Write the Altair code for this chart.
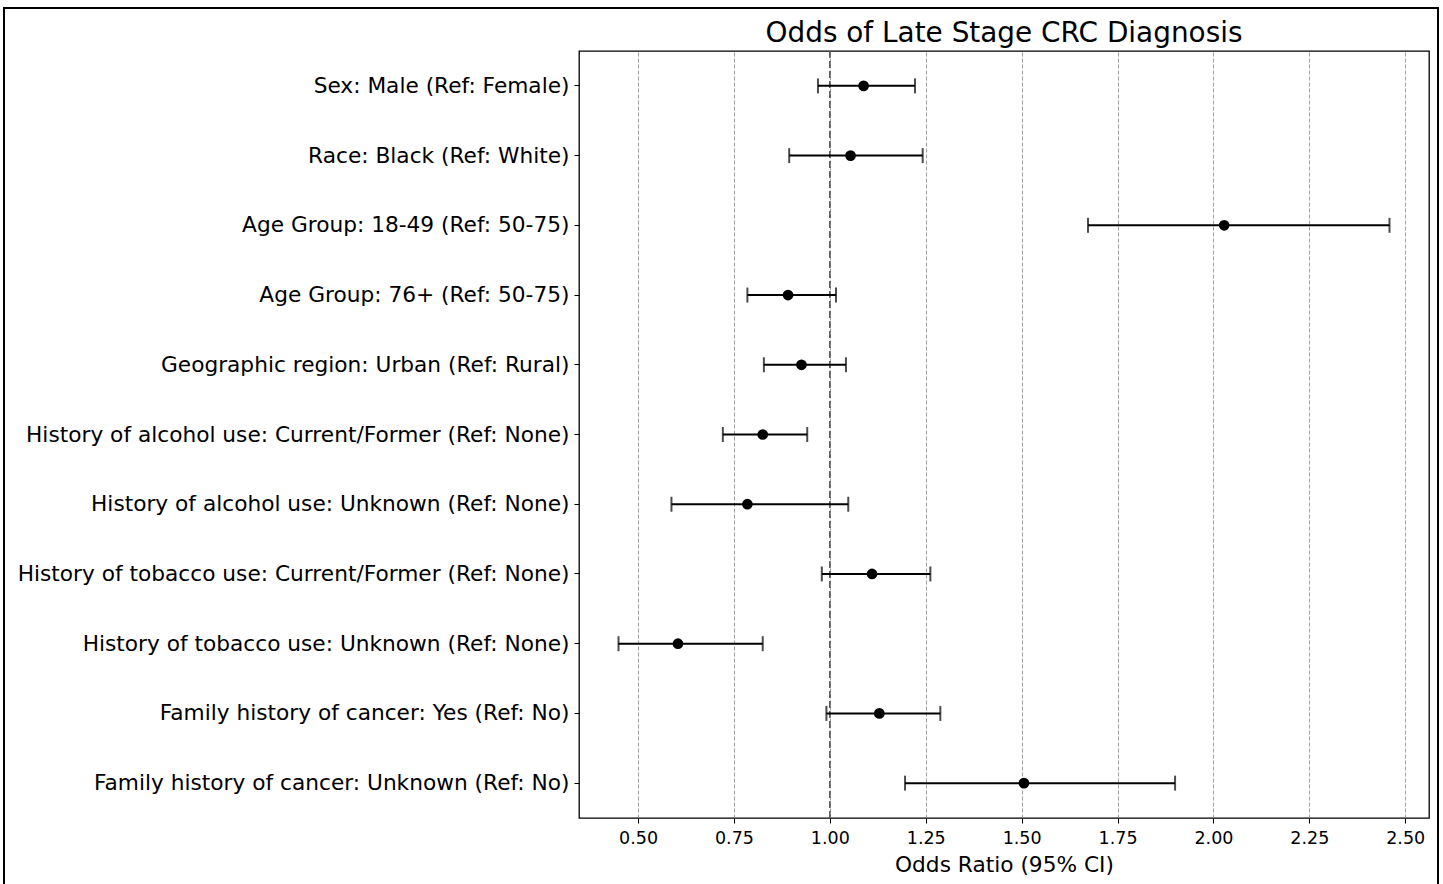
import altair as alt
import pandas as pd

categories = [
    "Sex: Male (Ref: Female)",
    "Race: Black (Ref: White)",
    "Age Group: 18-49 (Ref: 50-75)",
    "Age Group: 76+ (Ref: 50-75)",
    "Geographic region: Urban (Ref: Rural)",
    "History of alcohol use: Current/Former (Ref: None)",
    "History of alcohol use: Unknown (Ref: None)",
    "History of tobacco use: Current/Former (Ref: None)",
    "History of tobacco use: Unknown (Ref: None)",
    "Family history of cancer: Yes (Ref: No)",
    "Family history of cancer: Unknown (Ref: No)",
]
odds_ratio = [1.088, 1.054, 2.028, 0.891, 0.926, 0.825, 0.785, 1.110, 0.604, 1.129, 1.506]
ci_lower = [0.969, 0.894, 1.673, 0.785, 0.828, 0.721, 0.587, 0.979, 0.449, 0.991, 1.196]
ci_upper = [1.222, 1.242, 2.459, 1.016, 1.042, 0.941, 1.048, 1.262, 0.825, 1.288, 1.900]
x_ticks = [0.5, 0.75, 1.0, 1.25, 1.5, 1.75, 2.0, 2.25, 2.5]
ref_line = [1.0]
title_text = ["Odds of Late Stage CRC Diagnosis"]

df = pd.DataFrame({"label": categories, "or": odds_ratio, "lo": ci_lower, "hi": ci_upper})
ref_df = pd.DataFrame({"ref": ref_line})
title_df = pd.DataFrame({"t": title_text})

FONT = "DejaVu Sans"
x_scale = alt.Scale(domain=[0.346, 2.562], nice=False, zero=False)
y_enc = alt.Y("label:N", sort=categories, title=None,
              scale=alt.Scale(paddingInner=0, paddingOuter=0),
              axis=alt.Axis(labelFontSize=21.7, labelColor="black", tickColor="black",
                            tickSize=5, labelPadding=5, domain=False, grid=False,
                            labelLimit=800, labelFont=FONT))
x_axis = alt.Axis(values=x_ticks, format=".2f", labelFontSize=17.5, labelColor="black",
                  tickColor="black", tickSize=5, labelPadding=6, domain=False,
                  grid=True, gridDash=[4, 2], gridColor="#888888", gridWidth=0.8,
                  title="Odds Ratio (95% CI)", titleFontSize=21.7, titleFontWeight="normal",
                  titleColor="black", titlePadding=8, labelFont=FONT, titleFont=FONT)

base = alt.Chart(df)

grid_layer = base.mark_point(opacity=0).encode(
    x=alt.X("or:Q", scale=x_scale, axis=x_axis), y=y_enc)

ref = alt.Chart(ref_df).mark_rule(color="#555555", strokeDash=[7, 3], strokeWidth=1.6).encode(
    x=alt.X("ref:Q", scale=x_scale))

rules = base.mark_rule(color="black", strokeWidth=2).encode(
    x=alt.X("lo:Q", scale=x_scale), x2="hi:Q", y=y_enc)

caps_lo = base.mark_tick(color="black", thickness=2, size=15, orient="vertical").encode(
    x=alt.X("lo:Q", scale=x_scale), y=y_enc)
caps_hi = base.mark_tick(color="black", thickness=2, size=15, orient="vertical").encode(
    x=alt.X("hi:Q", scale=x_scale), y=y_enc)

points = base.mark_circle(color="black", size=115, opacity=1).encode(
    x=alt.X("or:Q", scale=x_scale), y=y_enc)

title = alt.Chart(title_df).mark_text(fontSize=27.9, font=FONT, color="black",
                                      align="center", baseline="alphabetic").encode(
    x=alt.value(425), y=alt.value(-9), text="t:N")

frame = alt.Chart(ref_df).mark_rect(fillOpacity=0, stroke="black", strokeWidth=2).encode(
    x=alt.value(-575), x2=alt.value(859), y=alt.value(-43), y2=alt.value(860))

chart = alt.layer(grid_layer, ref, rules, caps_lo, caps_hi, points, title, frame).properties(
    width=850, height=767,
    background="white",
    autosize=alt.AutoSizeParams(type="none"),
    padding={"left": 579, "top": 51, "right": 14, "bottom": 66},
).configure_view(stroke="black", strokeWidth=1.3)

chart.save("out.html", embed_options={"renderer": "svg", "actions": False})
